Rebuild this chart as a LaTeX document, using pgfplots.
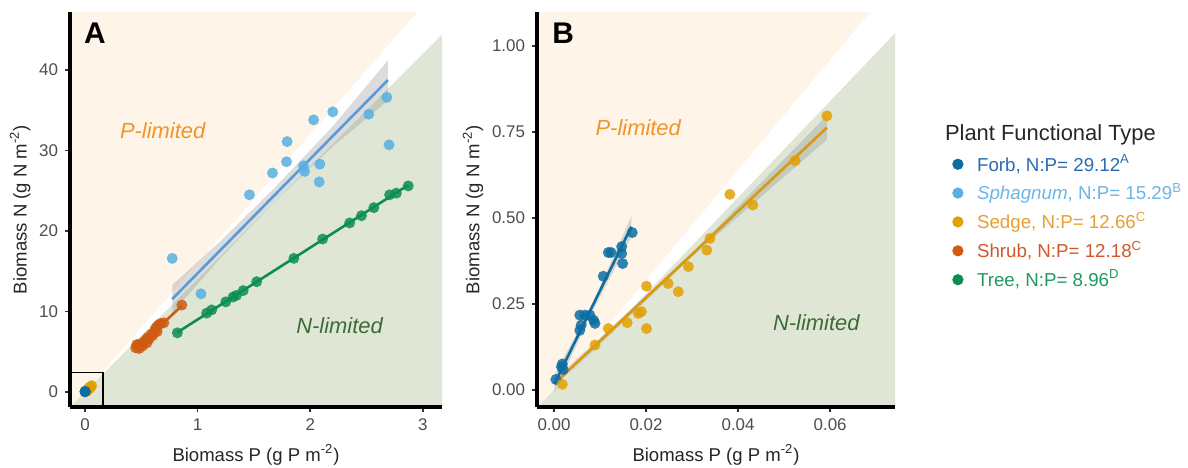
\documentclass[border=0pt]{standalone}
\usepackage{fontspec}
\setmainfont{Liberation Sans}
\usepackage{pgfplots}
\pgfplotsset{compat=1.18}
\definecolor{bgP}{HTML}{FEF4E8}
\definecolor{bgN}{HTML}{DFE6D6}
\definecolor{forb}{HTML}{0C6DA3}
\definecolor{sphag}{HTML}{56B0E2}
\definecolor{sphagline}{HTML}{5B9BD5}
\definecolor{sedge}{HTML}{E2A000}
\definecolor{sedgeline}{HTML}{D49A10}
\definecolor{shrub}{HTML}{D05A10}
\definecolor{tree}{HTML}{0B8F50}
\definecolor{ptext}{HTML}{F0952A}
\definecolor{ntext}{HTML}{3D6B35}
\definecolor{ticktxt}{HTML}{4D4D4D}
\definecolor{forbtxt}{HTML}{2A6BB0}
\definecolor{sphagtxt}{HTML}{6BB5E5}
\definecolor{sedgetxt}{HTML}{E6A030}
\definecolor{shrubtxt}{HTML}{D0582A}
\definecolor{treetxt}{HTML}{1E9A60}
\pgfplotsset{
  panel/.style={
    scale only axis, height=197.5bp, anchor=south west,
    axis lines*=left, axis on top,
    axis line style={line width=1.6bp, black},
    tick align=outside, major tick length=2.5bp,
    tick style={line width=0.8bp, black!80},
    scaled x ticks=false, scaled y ticks=false,
    ticklabel style={font=\fontsize{8.5}{10}\selectfont, text=ticktxt},
    label style={font=\fontsize{9.3}{11}\selectfont, text=black!85},
    xlabel={Biomass P (g P m\textsuperscript{-2})},
    ylabel={Biomass N (g N m\textsuperscript{-2})},
    ylabel shift=-2.5bp,
    clip=true,
  },
  pts/.style={only marks, mark=*, mark size=2.75bp, color=#1, mark options={draw=#1, draw opacity=0, fill=#1, fill opacity=0.85}, forget plot},
  legmark/.style={only marks, mark=*, mark size=2.6bp, color=#1, mark options={draw=#1, fill=#1}},
  fitline/.style={#1, line width=1.3bp, forget plot},
  band/.style={fill=black!45, fill opacity=0.3, draw=none, forget plot},
}
\begin{document}
\begin{tikzpicture}
\useasboundingbox (0,0) rectangle (594bp,234bp);
% ---------------- Panel A ----------------
\begin{axis}[panel, at={(35bp,30.5bp)}, width=186bp,
  xmin=-0.133, xmax=3.17, ymin=-1.86, ymax=47.2,
  xtick={0,1,2,3}, xticklabels={0,1,2,3},
  ytick={0,10,20,30,40}, yticklabels={0,10,20,30,40}]
\addplot[fill=bgP, draw=none, forget plot] coordinates {(-0.133,-1.86)(-0.133,47.2)(2.95,47.2)(-0.11625,-1.86)} -- cycle;
\addplot[fill=bgN, draw=none, forget plot] coordinates {(-0.1329,-1.86)(3.17,-1.86)(3.17,44.38)} -- cycle;
% Sphagnum band
\addplot[band] coordinates {(0.775,13.3)(1.2,18.7)(1.7,25.6)(2.2,33.0)(2.69,41.2)(2.69,36.2)(2.2,30.5)(1.7,23.8)(1.2,16.6)(0.775,9.8)} -- cycle;
% points
\addplot[pts=sphag] coordinates {(0.775,16.6)(1.03,12.2)(1.46,24.5)(1.665,27.2)(1.795,31.1)(1.79,28.6)(1.94,28.1)(1.95,27.4)(2.03,33.8)(2.085,28.3)(2.08,26.1)(2.20,34.8)(2.52,34.5)(2.68,36.6)(2.70,30.7)};
\addplot[pts=shrub] coordinates {(0.45,5.5)(0.46,5.9)(0.47,5.8)(0.48,5.4)(0.50,6.0)(0.51,5.7)(0.52,6.2)(0.54,6.5)(0.55,6.1)(0.56,6.8)(0.57,6.6)(0.59,7.2)(0.60,7.0)(0.62,7.6)(0.63,8.0)(0.64,7.5)(0.65,8.3)(0.67,8.5)(0.70,8.6)(0.86,10.8)};
\addplot[pts=tree] coordinates {(0.82,7.35)(1.08,9.8)(1.125,10.2)(1.25,11.2)(1.315,11.8)(1.345,12.0)(1.405,12.6)(1.525,13.7)(1.855,16.6)(2.11,19.0)(2.35,21.0)(2.455,21.9)(2.565,22.9)(2.705,24.5)(2.765,24.7)(2.87,25.6)};
\addplot[pts=sedge] coordinates {(0.0018,0.017)(0.0089,0.131)(0.0118,0.179)(0.0159,0.196)(0.0183,0.223)(0.019,0.228)(0.0201,0.302)(0.0201,0.179)(0.0248,0.31)(0.027,0.286)(0.0292,0.359)(0.0332,0.407)(0.0339,0.441)(0.0382,0.569)(0.0432,0.538)(0.0524,0.667)(0.0593,0.797)};
\addplot[pts=forb] coordinates {(0.0004,0.031)(0.0016,0.068)(0.0018,0.076)};
% fits
\addplot[fitline=sphagline] coordinates {(0.775,11.55)(2.69,38.75)};
\addplot[fitline=shrub] coordinates {(0.45,5.4)(0.86,10.7)};
\addplot[fitline=tree] coordinates {(0.82,7.4)(2.87,25.7)};
\addplot[fitline=sedgeline] coordinates {(0.0009,0.029)(0.0593,0.763)};
% inset box
\addplot[black, line width=0.6bp, forget plot] coordinates {(-0.133,2.4)(0.16,2.4)(0.16,-1.86)};
\node[font=\bfseries\fontsize{15}{15}\selectfont] at (rel axis cs:0.067,0.947) {A};
\node[font=\itshape\fontsize{11}{13}\selectfont, text=ptext] at (axis cs:0.69,32.4) {P-limited};
\node[font=\itshape\fontsize{11}{13}\selectfont, text=ntext] at (axis cs:2.26,8.3) {N-limited};
\end{axis}
% ---------------- Panel B ----------------
\begin{axis}[panel, at={(268.5bp,30.5bp)}, width=179bp,
  xmin=-0.0037, xmax=0.0741, ymin=-0.049, ymax=1.099,
  xtick={0,0.02,0.04,0.06}, xticklabels={0.00,0.02,0.04,0.06},
  ytick={0,0.25,0.5,0.75,1}, yticklabels={0.00,0.25,0.50,0.75,1.00},
  legend style={draw=none, fill=none, at={(1.160,0.6505)}, anchor=north west,
    font=\fontsize{9.4}{11.3}\selectfont, row sep=0.6bp, column sep=5bp, inner sep=0pt},
  legend cell align=left]
\addplot[fill=bgP, draw=none, forget plot] coordinates {(-0.0037,-0.049)(-0.0037,1.099)(0.06869,1.099)(-0.0030625,-0.049)} -- cycle;
\addplot[fill=bgN, draw=none, forget plot] coordinates {(-0.0035,-0.049)(0.0741,-0.049)(0.0741,1.0374)} -- cycle;
% bands
\addplot[band] coordinates {(0.0001,0.045)(0.008,0.24)(0.0168,0.505)(0.0168,0.445)(0.008,0.22)(0.0001,-0.007)} -- cycle;
\addplot[band] coordinates {(0.0009,0.041)(0.03,0.398)(0.0593,0.798)(0.0593,0.728)(0.03,0.388)(0.0009,0.017)} -- cycle;
% points
\addplot[pts=forb] coordinates {(0.0004,0.031)(0.0016,0.068)(0.0018,0.076)(0.0020,0.060)(0.0056,0.174)(0.0059,0.189)(0.0056,0.218)(0.0067,0.218)(0.0078,0.218)(0.0086,0.203)(0.0089,0.194)(0.0107,0.331)(0.0118,0.40)(0.0124,0.40)(0.0147,0.417)(0.0149,0.368)(0.0147,0.397)(0.0170,0.458)};
\addplot[pts=sedge] coordinates {(0.0018,0.017)(0.0089,0.131)(0.0118,0.179)(0.0159,0.196)(0.0183,0.223)(0.019,0.228)(0.0201,0.302)(0.0201,0.179)(0.0248,0.31)(0.027,0.286)(0.0292,0.359)(0.0332,0.407)(0.0339,0.441)(0.0382,0.569)(0.0432,0.538)(0.0524,0.667)(0.0593,0.797)};
\addplot[fitline=forb] coordinates {(0.0001,0.019)(0.0168,0.475)};
\addplot[fitline=sedgeline] coordinates {(0.0009,0.029)(0.0593,0.763)};
\node[font=\bfseries\fontsize{15}{15}\selectfont] at (rel axis cs:0.073,0.947) {B};
\node[font=\itshape\fontsize{11}{13}\selectfont, text=ptext] at (axis cs:0.0183,0.762) {P-limited};
\node[font=\itshape\fontsize{11}{13}\selectfont, text=ntext] at (axis cs:0.057,0.195) {N-limited};
% legend
\addlegendimage{legmark=forb}
\addlegendentry{\textcolor{forbtxt}{Forb, N:P= 29.12\textsuperscript{A}}}
\addlegendimage{legmark=sphag}
\addlegendentry{\textcolor{sphagtxt}{\textit{Sphagnum}, N:P= 15.29\textsuperscript{B}}}
\addlegendimage{legmark=sedge}
\addlegendentry{\textcolor{sedgetxt}{Sedge, N:P= 12.66\textsuperscript{C}}}
\addlegendimage{legmark=shrub}
\addlegendentry{\textcolor{shrubtxt}{Shrub, N:P= 12.18\textsuperscript{C}}}
\addlegendimage{legmark=tree}
\addlegendentry{\textcolor{treetxt}{Tree, N:P= 8.96\textsuperscript{D}}}
\end{axis}
\node[anchor=base west, font=\fontsize{11}{13}\selectfont, text=black!85] at (469bp,163.8bp) {Plant Functional Type};
\end{tikzpicture}
\end{document}
